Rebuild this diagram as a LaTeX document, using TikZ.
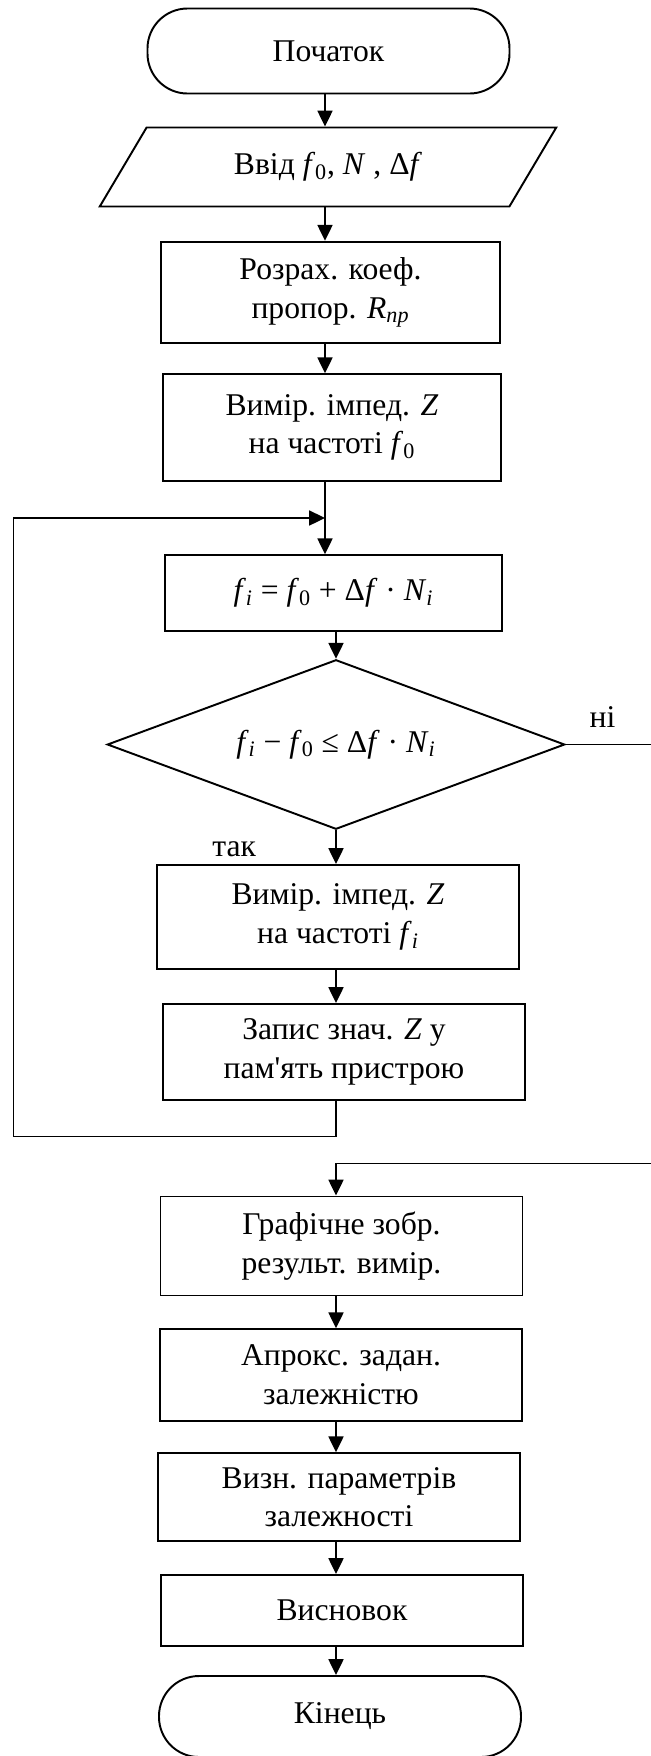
\documentclass[tikz,border=0pt]{standalone}
\usepackage{fontspec}
\setmainfont{Liberation Serif}
\usetikzlibrary{shapes.geometric, arrows.meta, calc}

\begin{document}
\begin{tikzpicture}[
        line width=1.1pt,
        font=\fontsize{18}{22}\selectfont,
        terminal/.style={
            rectangle,
            draw,
            rounded corners=0.8cm,
            minimum width=7.24cm,
            minimum height=1.7cm
        },
        io/.style={
            trapezium,
            trapezium left angle=41,
            trapezium right angle=139,
            trapezium stretches body,
            draw,
            minimum width=9.13cm,
            minimum height=1.58cm
        },
        block/.style={
            rectangle,
            draw,
            align=center,
            minimum width=7.24cm,
            minimum height=2cm
        },
        decision/.style={
            diamond,
            draw,
            aspect=2.7,
            inner sep=0pt,
            minimum width=9.15cm,
            minimum height=3.39cm
        },
        arr/.style={
            -{Triangle[length=9pt, width=8.5pt]}
        }
    ]
        \useasboundingbox (0, 0) rectangle (13.02, -35.12);

        % Start and input
        \node[terminal] (start) at (6.57, -1.02) {Початок};
        \node[io] (input) at (6.56, -3.34) {Ввід \textit{f}\textsubscript{0}, \textit{N} , Δ\textit{f}};

        % Preparation blocks
        \node[block, minimum width=6.77cm, minimum height=2.03cm] (coef) at (6.61, -5.85) {Розрах. коеф.\\пропор. \textit{R}\textsubscript{\textit{пр}}};
        \node[block, minimum width=6.77cm, minimum height=2.13cm] (imp0) at (6.64, -8.55) {Вимір. імпед. \textit{Z}\\на частоті \textit{f}\textsubscript{0}};

        % Frequency loop
        \node[block, minimum width=6.75cm, minimum height=1.51cm] (freq) at (6.67, -11.86) {\textit{f}\textsubscript{\textit{i}} = \textit{f}\textsubscript{0} + Δ\textit{f} · \textit{N}\textsubscript{\textit{i}}};
        \node[decision] (check) at (6.72, -14.89) {\textit{f}\textsubscript{\textit{i}} − \textit{f}\textsubscript{0} ≤ Δ\textit{f} · \textit{N}\textsubscript{\textit{i}}};
        \node[block, minimum height=2.08cm] (impi) at (6.76, -18.34) {Вимір. імпед. \textit{Z}\\на частоті \textit{f}\textsubscript{\textit{i}}};
        \node[block, minimum height=1.92cm] (store) at (6.88, -21.04) {Запис знач. \textit{Z} у\\пам\textquotesingle ять пристрою};

        % Processing of results
        \node[block, minimum height=1.98cm] (plot) at (6.83, -24.92) {Графічне зобр.\\результ. вимір.};
        \node[block, minimum height=1.83cm] (fit) at (6.82, -27.50) {Апрокс. задан.\\залежністю};
        \node[block, minimum height=1.75cm] (param) at (6.78, -29.94) {Визн. параметрів\\залежності};
        \node[block, minimum height=1.42cm] (concl) at (6.84, -32.21) {Висновок};
        \node[terminal, minimum height=1.62cm] (finish) at (6.80, -34.33) {Кінець};

        % Branch labels
        \node[anchor=base west, inner sep=0pt] (no) at ([xshift=0.46cm, yshift=0.34cm]check.east) {ні};
        \node[anchor=base east, inner sep=0pt] (yes) at ([xshift=-1.58cm, yshift=-0.52cm]check.south) {так};

        % Helper points
        \coordinate (upaxis) at (6.50, 0);
        \coordinate (loopin) at ($(imp0.south -| upaxis)!0.5!(freq.north -| upaxis)$);
        \coordinate (loopcorner) at (0.27, -22.73);
        \coordinate (noturn) at (13.40, -23.27);

        % Connections
        \draw[arr] (start.south -| upaxis) -- (input.north -| upaxis);
        \draw[arr] (input.south -| upaxis) -- (coef.north -| upaxis);
        \draw[arr] (coef.south -| upaxis) -- (imp0.north -| upaxis);
        \draw[arr] (imp0.south -| upaxis) -- (freq.north -| upaxis);
        \draw[arr] (freq.south -| check.north) -- (check.north);
        \draw[arr] (check.south) -- (impi.north -| check.south);
        \draw[arr] (impi.south -| check.south) -- (store.north -| check.south);
        \draw[arr] (store.south -| check.south) |- (loopcorner) |- (loopin);
        \draw[arr] (check.east) -| (noturn) -| (plot.north -| check.south);
        \draw[arr] (plot.south -| check.south) -- (fit.north -| check.south);
        \draw[arr] (fit.south -| check.south) -- (param.north -| check.south);
        \draw[arr] (param.south -| check.south) -- (concl.north -| check.south);
        \draw[arr] (concl.south -| check.south) -- (finish.north -| check.south);

    \end{tikzpicture}
\end{document}
